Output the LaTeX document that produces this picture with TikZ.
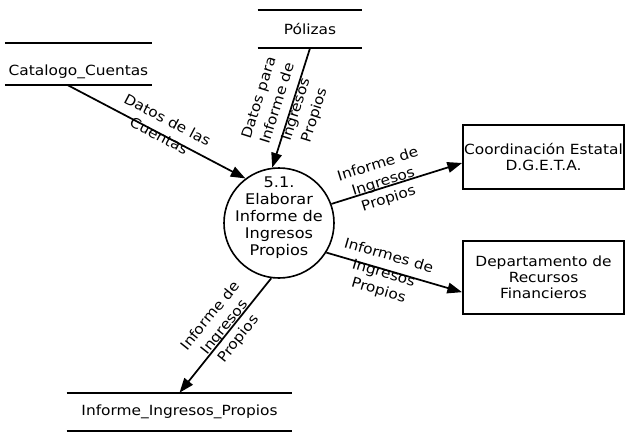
\documentclass[tikz,border=0pt]{standalone}
\usepackage{fontspec}
\setmainfont[FakeStretch=1.1]{DejaVu Sans}
\usetikzlibrary{arrows.meta}

\tikzset{
  almacen/.style={minimum width=#1, minimum height=28.5pt, inner sep=0pt},
  entidad/.style={draw, line width=1.2pt, minimum width=121pt, align=center, inner sep=0pt},
  proceso/.style={draw, circle, line width=1.2pt, minimum size=82.5pt, align=center, inner sep=-10pt,
    font=\fontsize{11}{12.75}\selectfont, text depth=10pt},
  flujo/.style={line width=1.3pt, -{Triangle[length=11pt,width=8pt]}},
  etiqueta/.style={sloped, align=center, inner sep=1pt, anchor=center, font=\fontsize{10.5}{13.5}\selectfont}
}

\begin{document}
\begin{tikzpicture}[x=0.75pt,y=-0.75pt,font=\fontsize{10.5}{12}\selectfont]
        \useasboundingbox (0,0) rectangle (625,432);
        \node[almacen=110pt, minimum height=31.5pt, text height=19pt, text depth=2.5pt] (cat) at (78.5,64) {Catalogo\_Cuentas};
        \node[almacen=78pt] (pol) at (310,29) {Pólizas};
        \node[almacen=169pt] (inf) at (179.5,412) {Informe\_Ingresos\_Propios};
        \node[proceso] (proc) at (279,223) {5.1.\\Elaborar\\Informe de\\Ingresos\\Propios};
        \node[entidad, minimum height=48pt] (coord) at (543.5,157) {Coordinación Estatal\\D.G.E.T.A.};
        \node[entidad, minimum height=55pt] (dept) at (543.5,277.5) {Departamento de\\Recursos\\Financieros};

        % lineas de los almacenes
        \foreach \a in {cat,pol,inf}{
                \draw[line width=1.2pt] (\a.north west) -- (\a.north east);
                \draw[line width=1.2pt] (\a.south west) -- (\a.south east);
        }

        % flujos de datos
        \draw[flujo] ([xshift=-7.9pt]cat.south) -- (proc.127)
                node[etiqueta, pos=0.52, yshift=5pt] {Datos de las\\Cuentas};
        \draw[flujo] (pol.south) -- (proc.97)
                node[etiqueta, pos=0.5, yshift=3pt, font=\fontsize{10.5}{14.5}\selectfont] {Datos para\\Informe de\\Ingresos\\Propios};
        \draw[flujo] (proc.20) -- ([yshift=-4.5pt]coord.west)
                node[etiqueta, pos=0.41, yshift=4pt] {Informe de\\Ingresos\\Propios};
        \draw[flujo] (proc.328) -- ([yshift=-11pt]dept.west)
                node[etiqueta, pos=0.43, yshift=-3pt] {Informes de\\Ingresos\\Propios};
        \draw[flujo] (proc.262) -- (inf.north)
                node[etiqueta, pos=0.46, yshift=4pt] {Informe de\\Ingresos\\Propios};
\end{tikzpicture}
\end{document}
